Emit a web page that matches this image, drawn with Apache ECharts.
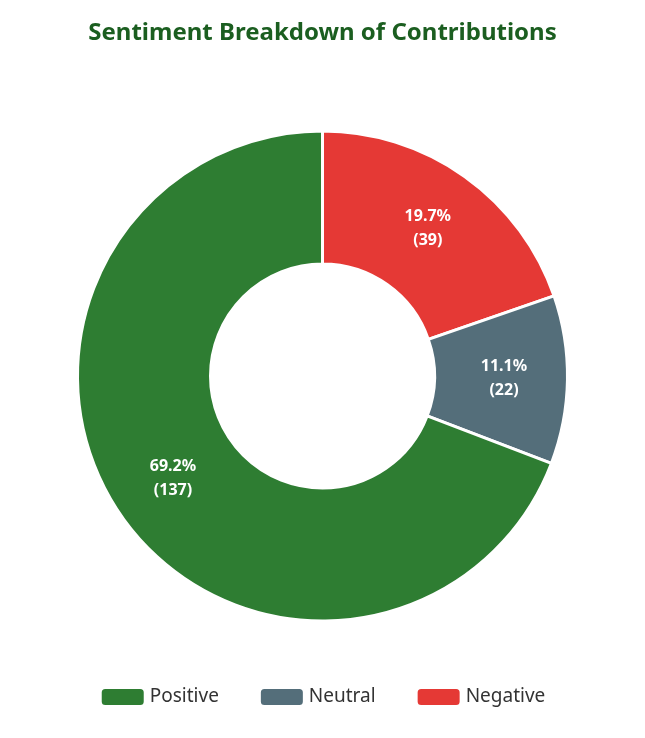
<!DOCTYPE html>
<html><head><meta charset="utf-8">
<script src="https://cdn.jsdelivr.net/npm/echarts@6/dist/echarts.min.js"></script>
<style>html,body{margin:0;padding:0;background:#fff}#c{width:645px;height:738px}</style>
</head><body><div id="c"></div>
<script>
const categories = ['Negative', 'Neutral', 'Positive'];
const values = [39, 22, 137];
const colors = ['#e53935', '#546e7a', '#2e7d32'];
const legendOrder = ['Positive', 'Neutral', 'Negative'];
const total = values.reduce((a, b) => a + b, 0);
const chart = echarts.init(document.getElementById('c'));
chart.setOption({
  textStyle: { fontFamily: 'Noto Sans' },
  title: { text: 'Sentiment Breakdown of Contributions', left: 'center', top: 16,
    textStyle: { color: '#1b5e20', fontSize: 24, fontWeight: 'bold', fontFamily: 'Noto Sans' } },
  legend: { data: legendOrder, bottom: 26, itemWidth: 44, itemHeight: 18, itemGap: 40,
    textStyle: { fontSize: 19, color: '#333', fontFamily: 'Noto Sans' } },
  series: [{
    type: 'pie', center: ['50%', 376], radius: [112, 245], startAngle: 90, clockwise: true,
    itemStyle: { borderColor: '#fff', borderWidth: 3 },
    label: { position: 'inside', color: '#fff', fontSize: 16, fontWeight: 'bold', lineHeight: 24,
      formatter: p => (p.value / total * 100).toFixed(1) + '%\n(' + p.value + ')' },
    data: categories.map((c, i) => ({ name: c, value: values[i], itemStyle: { color: colors[i] } }))
  }]
});
</script></body></html>
